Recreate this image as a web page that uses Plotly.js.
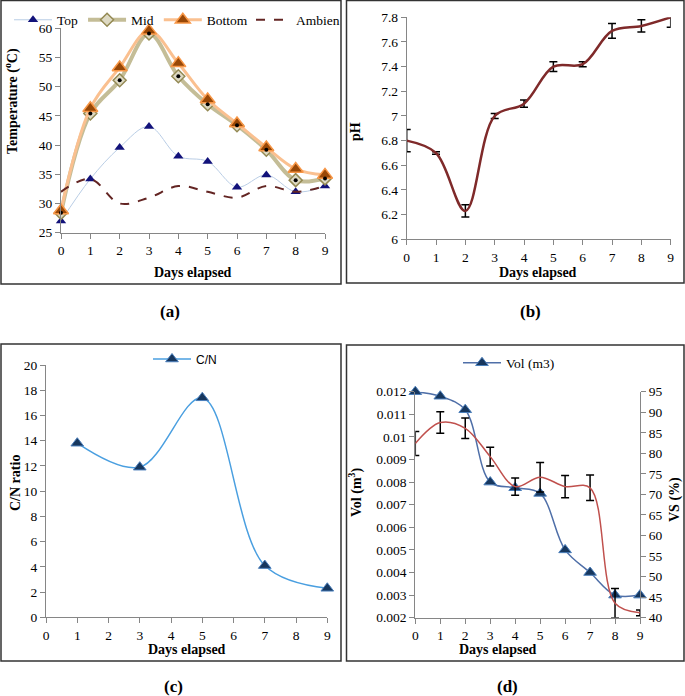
<!DOCTYPE html>
<html>
<head>
<meta charset="utf-8">
<script src="https://cdn.plot.ly/plotly-3.0.1.min.js"></script>
<style>html,body{margin:0;padding:0;background:#fff;}#chart{width:685px;height:696px;}</style>
</head>
<body>
<div id="chart"></div>
<script>
// ---------- data ----------
const days = [0, 1, 2, 3, 4, 5, 6, 7, 8, 9];
const topTemp = [27, 34.2, 39.6, 43.2, 38.1, 37.2, 32.8, 34.9, 32.0, 33.0];
const midTemp = [28.4, 45.4, 51.1, 59.1, 51.8, 47.0, 43.4, 39.2, 34.0, 34.3];
const bottomTemp = [28.8, 46.3, 53.3, 59.6, 54.0, 47.8, 43.7, 39.6, 35.9, 34.9];
const ambientTemp = [32, 34.2, 30, 31, 33, 32, 31, 33, 32, 33];
const pH = [6.8, 6.7, 6.23, 7.0, 7.1, 7.4, 7.42, 7.69, 7.73, 7.8];
const pHErr = [0.09, 0.01, 0.05, 0.02, 0.03, 0.04, 0.02, 0.06, 0.05, 0.08];
const cnDays = [1, 3, 5, 7, 9];
const cnRatio = [13.8, 11.9, 17.4, 4.1, 2.3];
const volM3 = [0.012, 0.0118, 0.0112, 0.008, 0.00775, 0.0075, 0.005, 0.004, 0.003, 0.003];
const vsPct = [82.4, 87.5, 86.1, 79.2, 71.9, 74.2, 71.9, 71.6, 43.5, 41.2];
const vsErr = [2.9, 2.6, 2.5, 2.3, 2.1, 3.6, 2.7, 3.1, 3.6, 0.7];
const seriesNames = ['Top', 'Mid', 'Bottom', 'Ambien', 'C/N', 'Vol (m3)'];

// ---------- helpers ----------
const W = 685, H = 696;
const X = px => px / W;
const Y = py => 1 - py / H;
const SERIF = '"Liberation Serif", "Times New Roman", serif';
const SANS = '"Liberation Sans", Arial, sans-serif';

const axBase = {
  showgrid: false, zeroline: false, showline: true, linecolor: '#868686', linewidth: 1,
  ticks: 'outside', ticklen: 5, tickcolor: '#868686', tickwidth: 1,
  tickfont: {family: SERIF, size: 13.5, color: '#000'}, fixedrange: true, automargin: false
};
const ax = o => Object.assign({}, axBase, o);

const errStyle = arr => ({type: 'data', array: arr, visible: true, color: '#000', thickness: 1.5, width: 4});

// ---------- traces ----------
const traces = [
  // (a)
  {x: days, y: topTemp, name: seriesNames[0], xaxis: 'x', yaxis: 'y', mode: 'lines+markers',
   line: {color: '#B9CDE5', width: 1, shape: 'spline', smoothing: 1},
   marker: {symbol: 'triangle-up', size: 9, color: '#12127A'}, cliponaxis: false, legend: 'legend'},
  {x: days, y: midTemp, name: seriesNames[1], xaxis: 'x', yaxis: 'y', mode: 'lines+markers',
   line: {color: '#C4BD97', width: 4, shape: 'spline', smoothing: 1},
   marker: {symbol: 'diamond', size: 10, color: '#DDD9C3', line: {color: '#948A54', width: 1.5}}, cliponaxis: false, legend: 'legend'},
  {x: days, y: bottomTemp, name: seriesNames[2], xaxis: 'x', yaxis: 'y', mode: 'lines+markers',
   line: {color: '#FAC090', width: 3, shape: 'spline', smoothing: 1},
   marker: {symbol: 'triangle-up', size: 13, color: '#984807', line: {color: '#F79646', width: 1.5}}, cliponaxis: false, legend: 'legend'},
  {x: days, y: ambientTemp, name: seriesNames[3], xaxis: 'x', yaxis: 'y', mode: 'lines',
   line: {color: '#632523', width: 2, dash: 'dash', shape: 'spline', smoothing: 1}, legend: 'legend4'},
  {x: days, y: midTemp, xaxis: 'x', yaxis: 'y', mode: 'markers', showlegend: false,
   marker: {symbol: 'circle', size: 4, color: '#000'}, cliponaxis: false},
  // (b)
  {x: days, y: pH, name: 'pH', xaxis: 'x2', yaxis: 'y2', mode: 'lines', showlegend: false,
   line: {color: '#7F2A2A', width: 2.5, shape: 'spline', smoothing: 1},
   error_y: errStyle(pHErr)},
  // (c)
  {x: cnDays, y: cnRatio, name: seriesNames[4], xaxis: 'x3', yaxis: 'y3', mode: 'lines+markers',
   line: {color: '#4A9FE0', width: 1.5, shape: 'spline', smoothing: 1},
   marker: {symbol: 'triangle-up', size: 11, color: '#17375E', line: {color: '#4A7EBB', width: 1}}, cliponaxis: false, legend: 'legend2'},
  // (d)
  {x: days, y: vsPct, name: 'VS (%)', xaxis: 'x4', yaxis: 'y5', mode: 'lines', showlegend: false,
   line: {color: '#C0504D', width: 1.5, shape: 'spline', smoothing: 1},
   error_y: errStyle(vsErr)},
  {x: days, y: volM3, name: seriesNames[5], xaxis: 'x4', yaxis: 'y4', mode: 'lines+markers',
   line: {color: '#4F6FA8', width: 1.5, shape: 'spline', smoothing: 1},
   marker: {symbol: 'triangle-up', size: 11, color: '#17375E', line: {color: '#4A7EBB', width: 1}}, cliponaxis: false, legend: 'legend3'}
];

// ---------- frames ----------
const frame = (x0, y0, x1, y1) => ({type: 'rect', xref: 'paper', yref: 'paper',
  x0: X(x0), x1: X(x1), y0: Y(y1), y1: Y(y0), line: {color: '#333', width: 1.5}, fillcolor: 'rgba(0,0,0,0)'});

const ann = (text, px, py, o) => Object.assign({text: text, x: X(px), y: Y(py), xref: 'paper', yref: 'paper',
  showarrow: false, xanchor: 'center', yanchor: 'middle',
  font: {family: SERIF, size: 14, color: '#000'}}, o || {});
const bold = t => '<b>' + t + '</b>';
const lbl = {font: {family: SERIF, size: 17, color: '#000'}};

const legBase = {orientation: 'h', xanchor: 'left', yanchor: 'middle', itemwidth: 38,
  bgcolor: 'rgba(0,0,0,0)', borderwidth: 0, traceorder: 'normal'};

const layout = {
  width: W, height: H, margin: {l: 0, r: 0, t: 0, b: 0},
  paper_bgcolor: '#fff', plot_bgcolor: 'rgba(0,0,0,0)', hovermode: false, showlegend: true,
  // (a)
  xaxis: ax({domain: [X(61), X(325)], range: [0, 9], dtick: 1, tick0: 0, anchor: 'y'}),
  yaxis: ax({domain: [Y(232.7), Y(28.3)], range: [25, 60], dtick: 5, tick0: 25, anchor: 'x'}),
  // (b)
  xaxis2: ax({domain: [X(406.7), X(670.7)], range: [0, 9], dtick: 1, tick0: 0, anchor: 'y2'}),
  yaxis2: ax({domain: [Y(239.3), Y(17.3)], range: [6, 7.8], dtick: 0.2, tick0: 6, anchor: 'x2'}),
  // (c)
  xaxis3: ax({domain: [X(46), X(327.3)], range: [0, 9], dtick: 1, tick0: 0, anchor: 'y3'}),
  yaxis3: ax({domain: [Y(617.3), Y(365)], range: [0, 20], dtick: 2, tick0: 0, anchor: 'x3'}),
  // (d)
  xaxis4: ax({domain: [X(415.3), X(640)], range: [0, 9], dtick: 1, tick0: 0, anchor: 'y4'}),
  yaxis4: ax({domain: [Y(617.7), Y(391.7)], range: [0.002, 0.012], dtick: 0.001, tick0: 0.002, anchor: 'x4', exponentformat: 'none'}),
  yaxis5: ax({domain: [Y(617.7), Y(391.7)], range: [40, 95], dtick: 5, tick0: 40, anchor: 'x4', overlaying: 'y4', side: 'right'}),
  legend: Object.assign({}, legBase, {x: X(9), y: Y(20), font: {family: SERIF, size: 13.5, color: '#000'}}),
  legend4: Object.assign({}, legBase, {x: X(251), y: Y(20), itemwidth: 35, font: {family: SERIF, size: 13.5, color: '#000'}}),
  legend2: Object.assign({}, legBase, {x: X(148), y: Y(359), font: {family: SANS, size: 12, color: '#000'}}),
  legend3: Object.assign({}, legBase, {x: X(458), y: Y(363), font: {family: SERIF, size: 13.5, color: '#000'}}),
  shapes: [
    frame(1, 0.5, 341, 284),
    frame(346.5, 0.5, 684, 283),
    frame(1, 344, 341, 661),
    frame(346.5, 345, 684, 661)
  ],
  annotations: [
    ann(bold('Temperature (<sup>o</sup>C)'), 11, 101, {textangle: -90}),
    ann(bold('Days elapsed'), 193, 272),
    ann(bold('pH'), 355, 132, {textangle: -90}),
    ann(bold('Days elapsed'), 538, 272),
    ann(bold('C/N ratio'), 15, 483, {textangle: -90}),
    ann(bold('Days elapsed'), 187, 649),
    ann(bold('Vol (m<sup>3</sup>)'), 355, 493, {textangle: -90}),
    ann(bold('VS (%)'), 675, 500, {textangle: -90}),
    ann(bold('Days elapsed'), 498, 649),
    ann(bold('(a)'), 170, 311, lbl),
    ann(bold('(b)'), 530, 311, lbl),
    ann(bold('(c)'), 174, 686, lbl),
    ann(bold('(d)'), 507, 686, lbl)
  ]
};

Plotly.newPlot('chart', traces, layout, {displayModeBar: false, staticPlot: true});
</script>
</body>
</html>
